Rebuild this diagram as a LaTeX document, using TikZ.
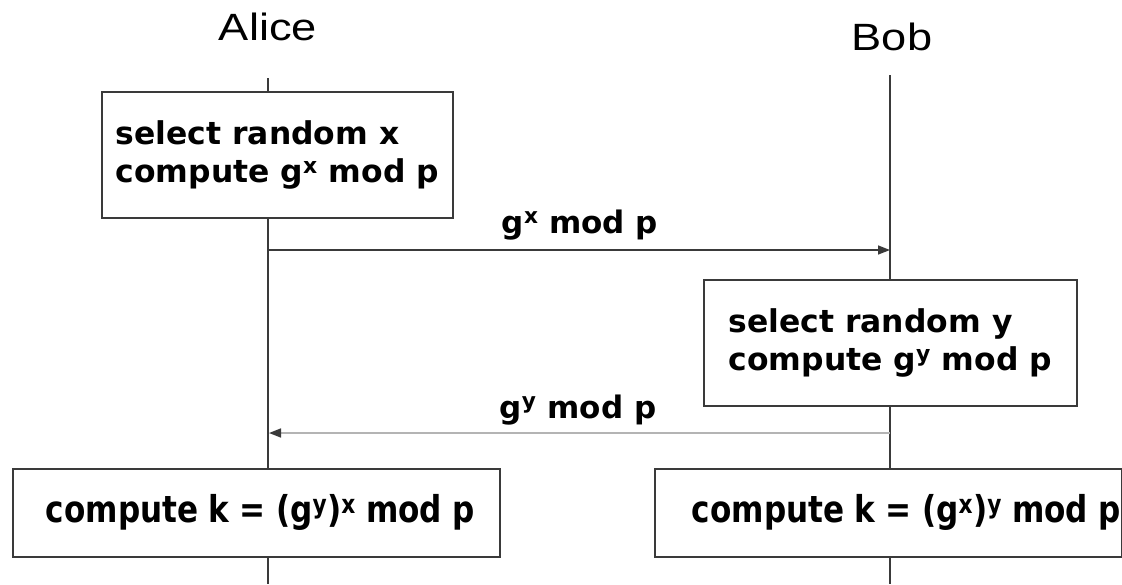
\documentclass[tikz,border=0pt]{standalone}
\usepackage{fontspec}
\setmainfont{DejaVu Sans}
\newfontfamily\namefont{Liberation Sans}
\usetikzlibrary{arrows.meta}
\definecolor{linegray}{HTML}{3A3A3A}
\definecolor{softgray}{HTML}{B4B4B4}
\newcommand{\wide}[1]{\scalebox{1.19}[1]{#1}}
\newcommand{\narrow}[1]{\scalebox{0.84}[1]{#1}}
\tikzset{
  party/.style={font=\namefont\fontsize{38}{40}\selectfont, inner sep=0pt, anchor=base},
  lifeline/.style={draw=linegray, line width=1.5pt},
  stepbox/.style={draw=linegray, line width=1.8pt, anchor=north west, inner ysep=0pt,
    font=\bfseries\fontsize{31.4}{38}\selectfont, align=left},
  keybox/.style={stepbox, font=\bfseries\fontsize{37}{40}\selectfont},
  msg/.style={draw=linegray, line width=1.5pt, -{Triangle[length=12pt,width=9pt]}},
  msglight/.style={draw=softgray, line width=1.5pt, -{Triangle[length=12pt,width=9pt,color=linegray]}},
  msglabel/.style={font=\bfseries\fontsize{31}{34}\selectfont, inner sep=0pt, anchor=base},
}
\begin{document}
\begin{tikzpicture}[x=1pt,y=-1pt]
  \useasboundingbox (0,0) rectangle (1122,584);

  % participants
  \node[party] (alice) at (268,40) {\wide{Alice}};
  \node[party] (bob) at (892,50) {\wide{Bob}};
  \coordinate (atop) at (268,78);
  \coordinate (btop) at (890,75);
  \coordinate (abot) at (268,584);
  \coordinate (bbot) at (890,584);

  % local computations
  \node[stepbox, minimum width=351pt, minimum height=126pt, inner xsep=6pt]
    (xsel) at (101,91) {select random x\\compute g\textsuperscript{x} mod p};
  \node[stepbox, minimum width=373pt, minimum height=126pt, inner xsep=6pt]
    (ysel) at (703,279) {select random y\\compute g\textsuperscript{y} mod p};
  \node[keybox, minimum width=487pt, minimum height=88pt, text width=421pt, inner xsep=33pt]
    (akey) at (12,468) {\narrow{compute k = (g\textsuperscript{y})\textsuperscript{x} mod p}};
  \node[keybox, minimum width=467pt, minimum height=88pt, text width=393pt, inner xsep=37pt]
    (bkey) at (654,468) {\narrow{compute k = (g\textsuperscript{x})\textsuperscript{y} mod p}};

  % lifelines
  \draw[lifeline] (atop) -- (xsel.north -| atop);
  \draw[lifeline] (xsel.south -| atop) -- (akey.north -| atop);
  \draw[lifeline] (akey.south -| atop) -- (abot);
  \draw[lifeline] (btop) -- (ysel.north -| btop);
  \draw[lifeline] (ysel.south -| btop) -- (bkey.north -| btop);
  \draw[lifeline] (bkey.south -| btop) -- (bbot);

  % messages
  \coordinate (m1a) at (268,250);
  \coordinate (m1b) at (890,250);
  \coordinate (m2b) at (890,433);
  \coordinate (m2a) at (269,433);
  \draw[msg] (m1a) -- (m1b);
  \draw[msglight] (m2b) -- (m2a);
  \node[msglabel] (l1) at (580,233) {g\textsuperscript{x} mod p};
  \node[msglabel] (l2) at (578,418) {g\textsuperscript{y} mod p};
\end{tikzpicture}
\end{document}
